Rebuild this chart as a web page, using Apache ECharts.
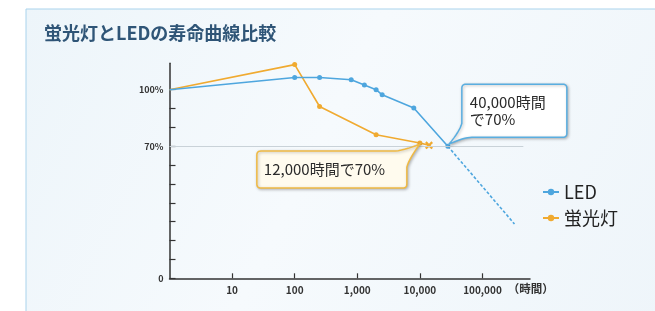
<!DOCTYPE html>
<html><head><meta charset="utf-8">
<script src="https://cdn.jsdelivr.net/npm/echarts@6/dist/echarts.min.js"></script>
<style>html,body{margin:0;padding:0;background:#fff}#c{width:655px;height:311px}</style>
</head><body><div id="c"></div>
<script>
const titleText = '蛍光灯とLEDの寿命曲線比較';
const xTickValues = [10, 100, 1000, 10000, 100000];
const yTickValues = [0, 10, 20, 30, 40, 50, 60, 70, 80, 90, 100];
const yLabelValues = [0, 70, 100];
const ledHours = [1, 100, 250, 800, 1300, 2000, 2500, 8000, 28000];
const ledValues = [100, 106.5, 106.5, 105.3, 102.5, 100, 97.3, 90.3, 70];
const ledProjHours = [28000, 325000];
const ledProjValues = [70, 28.8];
const flHours = [1, 100, 250, 2000, 10000, 14000];
const flValues = [100, 113.3, 91.1, 76.1, 71.7, 70.5];
const ledNote = '40,000時間\nで70%';
const flNote = '12,000時間で70%';

const FONT = '"Noto Sans CJK JP", "Noto Sans", sans-serif';
const BLUE = '#4ea6de';
const ORANGE = '#f0aa30';
const cross = 'path://M2,0 L5,3 L8,0 L10,2 L7,5 L10,8 L8,10 L5,7 L2,10 L0,8 L3,5 L0,2 Z';

const ledData = ledHours.map((h, i) => i === 0 ? {value: [h, ledValues[i]], symbol: 'none'} : [h, ledValues[i]]);
const ledProj = ledProjHours.map((h, i) => [h, ledProjValues[i]]);
const flData = flHours.map((h, i) => {
  if (i === 0) return {value: [h, flValues[i]], symbol: 'none'};
  if (i === flHours.length - 1) return {value: [h, flValues[i]], symbol: cross, symbolSize: 8};
  return [h, flValues[i]];
});

const chart = echarts.init(document.getElementById('c'), null, {renderer: 'canvas'});
chart.setOption({
  animation: false,
  textStyle: {fontFamily: FONT},
  title: {
    text: titleText, left: 39, top: 19,
    textStyle: {fontSize: 18, fontWeight: 'bold', color: '#2f5577', fontFamily: FONT}
  },
  grid: {left: 169.5, right: 125, top: 63.3, bottom: 32.7},
  legend: {
    data: ['LED', '蛍光灯'], orient: 'vertical', left: 537, top: 178,
    itemWidth: 16, itemHeight: 8, itemGap: 8,
    textStyle: {fontSize: 18, color: '#222', fontFamily: FONT}
  },
  xAxis: {
    type: 'log', logBase: 10, min: 1, max: 575000,
    name: '（時間）', nameLocation: 'end', nameGap: -33,
    nameTextStyle: {fontSize: 11.5, fontWeight: 'bold', color: '#333', verticalAlign: 'top', padding: [5, 0, 0, 0]},
    axisLine: {lineStyle: {color: '#333', width: 1.5}},
    axisTick: {inside: true, length: 5, customValues: xTickValues, lineStyle: {color: '#333', width: 1.2}},
    minorTick: {show: false},
    axisLabel: {customValues: xTickValues, margin: 7, fontSize: 10, fontWeight: 'bold', color: '#333',
      formatter: v => Number(v).toLocaleString('en-US')},
    splitLine: {show: false}
  },
  yAxis: {
    type: 'value', min: 0, max: 114,
    axisLine: {show: true, lineStyle: {color: '#333', width: 1.5}},
    axisTick: {show: true, inside: true, length: 6, customValues: yTickValues, lineStyle: {color: '#333', width: 1.2}},
    axisLabel: {customValues: yLabelValues, margin: 6, fontSize: 9, fontWeight: 'bold', color: '#333',
      formatter: v => v === 0 ? '0' : v + '%'},
    splitLine: {show: false}
  },
  series: [
    {
      name: 'LED', type: 'line', data: ledData, z: 4,
      symbol: 'circle', symbolSize: 5,
      lineStyle: {color: BLUE, width: 1.6}, itemStyle: {color: BLUE},
      markLine: {
        silent: true, symbol: 'none', label: {show: false},
        lineStyle: {color: '#c9d2d8', width: 1, type: 'solid'},
        data: [[{coord: [1, 70]}, {coord: [450000, 70]}]]
      }
    },
    {
      name: 'LED', type: 'line', data: ledProj, z: 3, showSymbol: false, symbol: 'none',
      lineStyle: {color: BLUE, width: 1.6, type: [3, 2]}, itemStyle: {color: BLUE}
    },
    {
      name: '蛍光灯', type: 'line', data: flData, z: 3,
      symbol: 'circle', symbolSize: 5,
      lineStyle: {color: ORANGE, width: 1.6}, itemStyle: {color: ORANGE}
    }
  ]
});

const pL = chart.convertToPixel({xAxisIndex: 0, yAxisIndex: 0}, [ledHours[ledHours.length - 1], ledValues[ledValues.length - 1]]);
const pF = chart.convertToPixel({xAxisIndex: 0, yAxisIndex: 0}, [flHours[flHours.length - 2], flValues[flValues.length - 2]]);

// build polygon points from segments: ['L', x, y] or ['Q', cx, cy, x, y]
function buildPoly(start, segs) {
  const pts = [start.slice()];
  let cur = start.slice();
  segs.forEach(s => {
    if (s[0] === 'L') { cur = [s[1], s[2]]; pts.push(cur); }
    else {
      const [_, cx, cy, x, y] = s;
      for (let k = 1; k <= 8; k++) {
        const t = k / 8, u = 1 - t;
        pts.push([u*u*cur[0] + 2*u*t*cx + t*t*x, u*u*cur[1] + 2*u*t*cy + t*t*y]);
      }
      cur = [x, y];
    }
  });
  return pts;
}
function ledBubble(tx, ty) {
  const l = tx + 14, t = ty - 62, r = tx + 119, b = ty - 9;
  return buildPoly([l+4, t], [
    ['L', r-4, t], ['Q', r, t, r, t+4], ['L', r, b-4], ['Q', r, b, r-4, b],
    ['L', l+10, b], ['Q', l+2, b, tx+1, ty-2], ['Q', l-2, b-6, l, b-14],
    ['L', l, t+4], ['Q', l, t, l+4, t]]);
}
function flBubble(tx, ty) {
  const l = tx - 163, t = ty + 8, r = tx - 13, b = ty + 45;
  return buildPoly([l+4, t], [
    ['L', r-14, t], ['Q', r-4, t, tx, ty+1], ['Q', r+2, t+8, r, t+16],
    ['L', r, b-4], ['Q', r, b, r-4, b], ['L', l+4, b], ['Q', l, b, l, b-4],
    ['L', l, t+4], ['Q', l, t, l+4, t]]);
}

chart.setOption({
  graphic: [
    {type: 'rect', z: -10, silent: true, shape: {x: 26, y: 9, width: 640, height: 320},
      style: {fill: {type: 'linear', x: 0, y: 0, x2: 1, y2: 1, colorStops: [
        {offset: 0, color: '#edf5fa'}, {offset: 0.45, color: '#f6fafd'}, {offset: 1, color: '#eef5fa'}]},
        stroke: '#a9d3ec', lineWidth: 1}},
    {type: 'polygon', z: 50, shape: {points: ledBubble(pL[0], pL[1])},
      style: {fill: '#ffffff', stroke: '#5aaee0', lineWidth: 1.5,
        shadowBlur: 3, shadowOffsetX: 1, shadowOffsetY: 1, shadowColor: 'rgba(0,0,0,0.25)'}},
    {type: 'text', z: 51, left: pL[0] + 22, top: pL[1] - 52,
      style: {text: ledNote, fontSize: 15, lineHeight: 17, fill: '#2a2a2a', fontFamily: FONT}},
    {type: 'polygon', z: 50, shape: {points: flBubble(pF[0], pF[1])},
      style: {fill: '#fffbee', stroke: '#efb943', lineWidth: 1.5,
        shadowBlur: 3, shadowOffsetX: 1, shadowOffsetY: 1, shadowColor: 'rgba(0,0,0,0.25)'}},
    {type: 'text', z: 51, left: pF[0] - 156, top: pF[1] + 18,
      style: {text: flNote, fontSize: 15, lineHeight: 17, fill: '#2a2a2a', fontFamily: FONT}}
  ]
});
</script></body></html>
